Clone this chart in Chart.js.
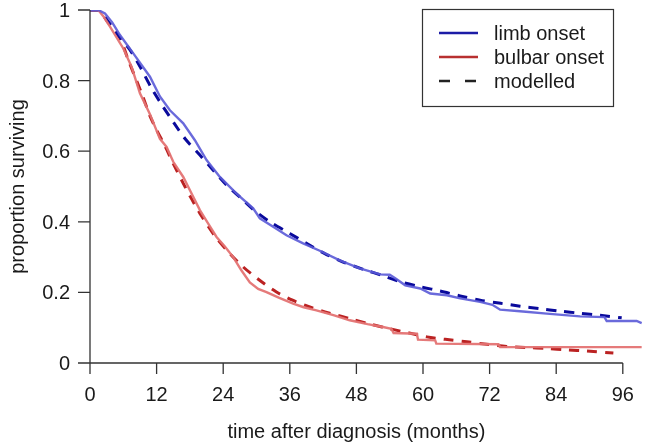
<!DOCTYPE html>
<html>
<head>
<meta charset="utf-8">
<title>survival by onset</title>
<script src="https://cdn.jsdelivr.net/npm/chart.js@4.4.1/dist/chart.umd.min.js"></script>
<style>
    body { margin: 0; background: #fff; }
    #wrap { width: 650px; height: 445px; }
</style>
</head>
<body>
<div id="wrap"><canvas id="survChart" width="650" height="445"></canvas></div>
<script>
/**
 * values (months after diagnosis, proportion surviving)
 **/
let limbMonths = [0, 1.5, 2.7, 4, 5.4, 7.8, 10.8, 12.6, 14.4, 16.8, 18.9, 21, 23.4, 26.4, 29.4, 30.6, 33, 35.4, 38.4, 41.4, 45, 48.6, 52.3, 54, 55, 56.8, 59.5, 61.3, 64.3, 66.7, 70.3, 72.5, 73.9, 78, 82.3, 88.3, 92.7, 93.1, 98.5, 99.4];
let limbSurv = [1, 1, 0.99, 0.965, 0.929, 0.877, 0.811, 0.755, 0.716, 0.679, 0.631, 0.575, 0.527, 0.48, 0.438, 0.41, 0.386, 0.362, 0.339, 0.318, 0.291, 0.268, 0.251, 0.25, 0.24, 0.22, 0.211, 0.197, 0.192, 0.183, 0.173, 0.165, 0.151, 0.146, 0.14, 0.132, 0.13, 0.119, 0.119, 0.113];

let limbModelMonths = [0, 1.5, 3.3, 5, 7.2, 9, 11.1, 13, 15, 17.1, 19.8, 22.2, 24.6, 27.3, 29.4, 32.4, 36, 39, 42.3, 45.6, 49.3, 52.5, 55.9, 59.5, 63.1, 66.7, 70.3, 74, 77.5, 81, 84.7, 88.3, 91.9, 95.8];
let limbModelSurv = [1, 1, 0.967, 0.93, 0.887, 0.84, 0.778, 0.73, 0.683, 0.636, 0.589, 0.546, 0.504, 0.466, 0.435, 0.4, 0.367, 0.339, 0.31, 0.286, 0.265, 0.249, 0.23, 0.216, 0.204, 0.19, 0.178, 0.169, 0.161, 0.154, 0.147, 0.141, 0.135, 0.128];

let bulbarMonths = [0, 1.5, 2.5, 3.6, 6, 7.5, 9, 10.8, 12.6, 13.8, 15, 16.8, 18.3, 19.8, 21.3, 22.8, 24.3, 25.8, 27.3, 28.8, 30.3, 31.8, 34, 36.6, 38.5, 40.8, 44, 46.8, 50, 52.8, 54.3, 54.7, 58.9, 59.1, 62.2, 62.4, 73.6, 73.9, 99.4];
let bulbarSurv = [1, 1, 0.98, 0.953, 0.891, 0.839, 0.764, 0.705, 0.635, 0.612, 0.57, 0.527, 0.48, 0.433, 0.395, 0.357, 0.33, 0.3, 0.262, 0.228, 0.21, 0.201, 0.185, 0.168, 0.158, 0.149, 0.135, 0.121, 0.11, 0.102, 0.097, 0.085, 0.083, 0.066, 0.064, 0.055, 0.053, 0.045, 0.045];

let bulbarModelMonths = [0, 1.5, 3, 5.4, 6.9, 9.3, 10.8, 12, 13.5, 15, 16.8, 18.3, 19.8, 22.5, 25.2, 27.6, 30.5, 33.6, 36.5, 39.6, 43, 46.8, 50.5, 54, 57.5, 60.7, 64, 67.9, 71.5, 75.1, 78.5, 82.3, 86, 89.5, 94.3];
let bulbarModelSurv = [1, 1, 0.97, 0.92, 0.858, 0.764, 0.7, 0.66, 0.615, 0.565, 0.509, 0.465, 0.424, 0.36, 0.31, 0.272, 0.235, 0.201, 0.178, 0.159, 0.142, 0.126, 0.11, 0.097, 0.085, 0.074, 0.067, 0.06, 0.053, 0.047, 0.044, 0.041, 0.037, 0.034, 0.028];

let xTicks = [0, 12, 24, 36, 48, 60, 72, 84, 96];
let yTicks = [0, 0.2, 0.4, 0.6, 0.8, 1];
let yTickLabels = ["0", "0.2", "0.4", "0.6", "0.8", "1"];
let legendLabels = ["limb onset", "bulbar onset", "modelled"];

let fontName = "'Liberation Sans', Arial, sans-serif";

function toPoints(months, surv) {
    let pts = [];
    for (let i = 0; i < months.length; i++) {
        pts.push({x: months[i], y: surv[i]});
    }
    return pts;
}

/**
 * R style axes, titles and boxed legend
 **/
let baseAxes = {
    id: 'baseAxes',
    afterDraw: function (chart) {
        let ctx = chart.ctx;
        let xs = chart.scales.x;
        let ys = chart.scales.y;
        let y0 = ys.getPixelForValue(0);
        let x0 = xs.getPixelForValue(0);

        ctx.save();
        ctx.strokeStyle = "#333";
        ctx.lineWidth = 1.3;
        ctx.fillStyle = "#1a1a1a";
        ctx.font = "20px " + fontName;

        // y axis
        ctx.beginPath();
        ctx.moveTo(x0, ys.getPixelForValue(0));
        ctx.lineTo(x0, ys.getPixelForValue(1));
        for (let i = 0; i < yTicks.length; i++) {
            let py = ys.getPixelForValue(yTicks[i]);
            ctx.moveTo(x0, py);
            ctx.lineTo(x0 - 12, py);
        }
        ctx.stroke();
        ctx.textAlign = "right";
        ctx.textBaseline = "alphabetic";
        for (let i = 0; i < yTicks.length; i++) {
            ctx.fillText(yTickLabels[i], x0 - 20, ys.getPixelForValue(yTicks[i]) + 7);
        }

        // x axis
        ctx.beginPath();
        ctx.moveTo(xs.getPixelForValue(xTicks[0]), y0);
        ctx.lineTo(xs.getPixelForValue(xTicks[xTicks.length - 1]), y0);
        for (let i = 0; i < xTicks.length; i++) {
            let px = xs.getPixelForValue(xTicks[i]);
            ctx.moveTo(px, y0);
            ctx.lineTo(px, y0 + 11);
        }
        ctx.stroke();
        ctx.textAlign = "center";
        for (let i = 0; i < xTicks.length; i++) {
            ctx.fillText(String(xTicks[i]), xs.getPixelForValue(xTicks[i]), y0 + 38);
        }

        // titles
        let midX = (xs.getPixelForValue(xTicks[0]) + xs.getPixelForValue(xTicks[xTicks.length - 1])) / 2;
        ctx.fillText("time after diagnosis (months)", midX, y0 + 75);
        ctx.save();
        ctx.translate(24, (ys.getPixelForValue(0) + ys.getPixelForValue(1)) / 2);
        ctx.rotate(-Math.PI / 2);
        ctx.fillText("proportion surviving", 0, 0);
        ctx.restore();

        // legend
        ctx.lineWidth = 1.2;
        ctx.strokeRect(422.5, 9.5, 191, 97);
        let legColors = ["#1c1ca6", "#b83030", "#222"];
        let legDash = [[], [], [11, 15]];
        ctx.textAlign = "left";
        for (let i = 0; i < legendLabels.length; i++) {
            let ly = 33 + i * 24;
            ctx.beginPath();
            ctx.setLineDash(legDash[i]);
            ctx.strokeStyle = legColors[i];
            ctx.lineWidth = 2.5;
            ctx.moveTo(439, ly);
            ctx.lineTo(478, ly);
            ctx.stroke();
            ctx.setLineDash([]);
            ctx.fillText(legendLabels[i], 494, ly + 7);
        }
        ctx.restore();
    }
};

new Chart(document.getElementById("survChart"), {
    type: 'scatter',
    data: {
        datasets: [{
            label: 'limb onset',
            data: toPoints(limbMonths, limbSurv),
            showLine: true,
            borderColor: 'rgba(90, 90, 215, 0.9)',
            borderWidth: 2.4,
            pointRadius: 0,
            tension: 0
        }, {
            label: 'bulbar onset',
            data: toPoints(bulbarMonths, bulbarSurv),
            showLine: true,
            borderColor: 'rgba(228, 115, 115, 0.95)',
            borderWidth: 2.4,
            pointRadius: 0,
            tension: 0
        }, {
            label: 'limb modelled',
            data: toPoints(limbModelMonths, limbModelSurv),
            showLine: true,
            borderColor: '#0a0a9c',
            borderWidth: 3,
            borderDash: [10, 8],
            pointRadius: 0,
            tension: 0.3
        }, {
            label: 'bulbar modelled',
            data: toPoints(bulbarModelMonths, bulbarModelSurv),
            showLine: true,
            borderColor: '#bb2222',
            borderWidth: 3,
            borderDash: [10, 8],
            pointRadius: 0,
            tension: 0.3
        }]
    },
    options: {
        responsive: false,
        animation: false,
        layout: {
            padding: {left: 90, right: 5, top: 10, bottom: 82}
        },
        scales: {
            x: {type: 'linear', min: 0, max: 100, display: false},
            y: {min: 0, max: 1, display: false}
        },
        plugins: {
            legend: {display: false},
            tooltip: {enabled: false}
        }
    },
    plugins: [baseAxes]
});
</script>
</body>
</html>
